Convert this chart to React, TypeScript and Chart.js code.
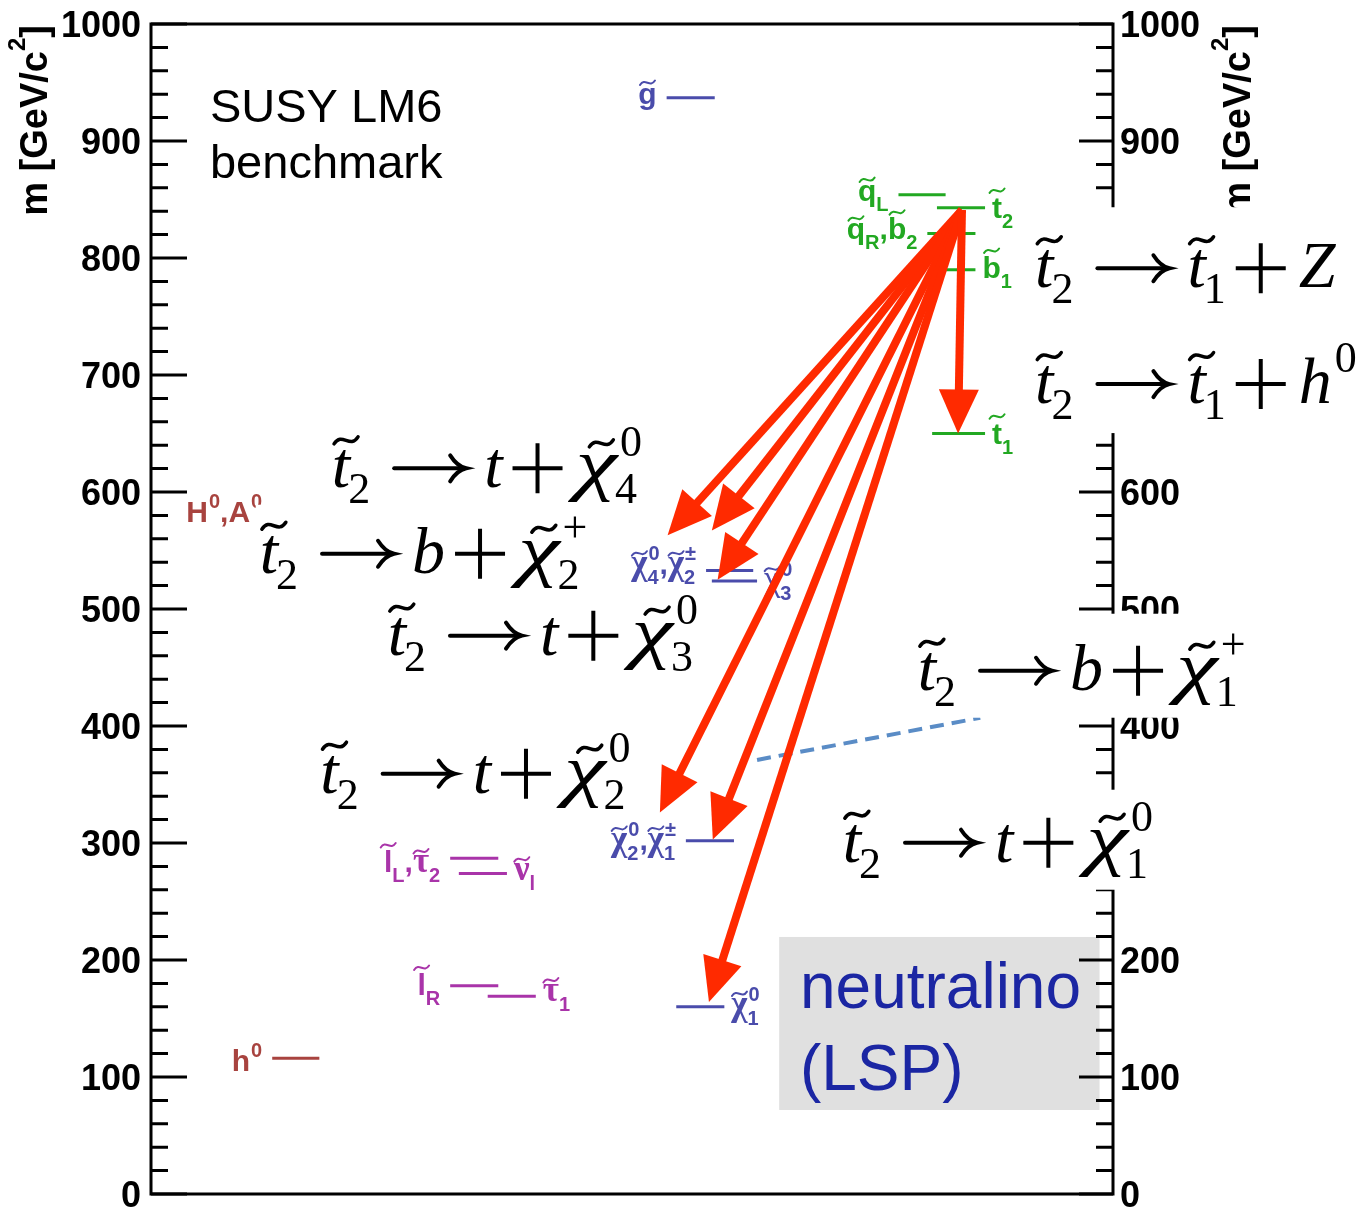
import React, { useEffect, useRef } from 'react';
import { Chart, registerables } from 'chart.js';

Chart.register(...registerables);

// ---------------- data ----------------
// SUSY LM6 mass spectrum levels (GeV/c^2)
const levelIds = ['gluino', 'sqL', 'stop2', 'sqR_sb2', 'sb1', 'stop1', 'chi40_chi2pm', 'chi30', 'chi20_chi1pm', 'chi10', 'slL_stau2', 'snu', 'slR', 'stau1', 'h0', 'H0_A0'];
const levelMass = [937, 854, 843, 821, 790, 650, 533, 524, 302, 160, 287, 274, 178, 169, 116, 584];
const levelXStart = [53.6, 77.7, 81.7, 80.7, 81.2, 81.2, 57.7, 58.3, 55.6, 54.6, 31.1, 32.0, 31.1, 35.0, 12.6, 12.6];
const levelXEnd = [58.6, 82.6, 86.7, 85.7, 85.7, 86.7, 62.6, 63.0, 60.6, 59.6, 36.1, 37.0, 36.1, 40.0, 17.5, 17.5];
const levelGroup = ['gaugino', 'squark', 'squark', 'squark', 'squark', 'squark', 'gaugino', 'gaugino', 'gaugino', 'gaugino', 'slepton', 'slepton', 'slepton', 'slepton', 'higgs', 'higgs'];

// decays of stop2 (arrows): source and targets
const decaySourceX = 84.3;
const decaySourceMass = 841;
const decayTargetX = [53.7, 58.3, 58.9, 52.9, 58.4, 58.0, 83.9];
const decayTargetMass = [563, 567, 525, 326, 303, 164, 650];

// dashed link (t2 -> b + chi1+)
const linkX = [63.0, 86.2];
const linkMass = [371, 407];

// axis
const massTicks = [0, 100, 200, 300, 400, 500, 600, 700, 800, 900, 1000];
const massMin = 0;
const massMax = 1000;
const massMinorStep = 20;

// ---------------- styles / layout ----------------
const groupColor: Record<string, string> = {
  squark: '#22a822',
  gaugino: '#4a4cab',
  slepton: '#a934a9',
  higgs: '#a8433f',
};
const RED = '#ff2a00';

type Seg = { t?: string; sub?: string; sup?: string; tilde?: boolean; greek?: boolean; op?: 'arrow' | 'plus' };

type RichStyle = {
  family: string; weight: string; italic: boolean; size: number;
  greekFamily: string; greekWeight: string; greekItalic: boolean; greekSize: number; greekScaleX: number;
  scriptFamily: string; scriptWeight: string; scriptSize: number;
  subDy: number; supDy: number; subKern: number; supKern: number;
  tildeTall: number; tildeShort: number; tildeW: number; tildeAmp: number; tildeLW: number; tildeShift: number;
  arrowW: number; arrowGap: [number, number]; plusW: number; plusGap: [number, number]; opLW: number; mathAxis: number;
};

const SANS = '"Liberation Sans", Arial, Helvetica, sans-serif';
const SERIF = '"Liberation Serif", "Times New Roman", serif';

const labelStyle: RichStyle = {
  family: SANS, weight: 'bold', italic: false, size: 30,
  greekFamily: SERIF, greekWeight: 'bold', greekItalic: false, greekSize: 35, greekScaleX: 1,
  scriptFamily: SANS, scriptWeight: 'bold', scriptSize: 20,
  subDy: 10, supDy: -14, subKern: 0, supKern: 1,
  tildeTall: 27, tildeShort: 21, tildeW: 15, tildeAmp: 2.2, tildeLW: 2, tildeShift: 0,
  arrowW: 0, arrowGap: [0, 0], plusW: 0, plusGap: [0, 0], opLW: 0, mathAxis: 0,
};

const mathStyle: RichStyle = {
  family: SERIF, weight: 'normal', italic: true, size: 66,
  greekFamily: SERIF, greekWeight: 'normal', greekItalic: true, greekSize: 70, greekScaleX: 1.35,
  scriptFamily: SERIF, scriptWeight: 'normal', scriptSize: 44,
  subDy: 16, supDy: -31, subKern: -2, supKern: 3,
  tildeTall: 47, tildeShort: 44, tildeW: 24, tildeAmp: 3.5, tildeLW: 3.5, tildeShift: 5,
  arrowW: 72, arrowGap: [24, 18], plusW: 50, plusGap: [10, 13], opLW: 4, mathAxis: 19,
};

const levelLabelSegs: Seg[][] = [
  [{ t: 'g', tilde: true }],
  [{ t: 'q', tilde: true, sub: 'L' }],
  [{ t: 't', tilde: true, sub: '2' }],
  [{ t: 'q', tilde: true, sub: 'R' }, { t: ',' }, { t: 'b', tilde: true, sub: '2' }],
  [{ t: 'b', tilde: true, sub: '1' }],
  [{ t: 't', tilde: true, sub: '1' }],
  [{ t: 'χ', greek: true, tilde: true, sub: '4', sup: '0' }, { t: ',' }, { t: 'χ', greek: true, tilde: true, sub: '2', sup: '±' }],
  [{ t: 'χ', greek: true, tilde: true, sub: '3', sup: '0' }],
  [{ t: 'χ', greek: true, tilde: true, sub: '2', sup: '0' }, { t: ',' }, { t: 'χ', greek: true, tilde: true, sub: '1', sup: '±' }],
  [{ t: 'χ', greek: true, tilde: true, sub: '1', sup: '0' }],
  [{ t: 'l', tilde: true, sub: 'L' }, { t: ',' }, { t: 'τ', greek: true, tilde: true, sub: '2' }],
  [{ t: 'ν', greek: true, tilde: true, sub: 'l' }],
  [{ t: 'l', tilde: true, sub: 'R' }],
  [{ t: 'τ', greek: true, tilde: true, sub: '1' }],
  [{ t: 'h', sup: '0' }],
  [{ t: 'H', sup: '0' }, { t: ',' }, { t: 'A', sup: '0' }],
];
const levelLabelSide = ['L', 'L', 'R', 'L', 'R', 'R', 'L', 'R', 'L', 'R', 'L', 'R', 'L', 'R', 'L', 'L'];
const levelLabelDy = [6, 6, 10, 6, 8, 10, 4, 9, 9, 8, 14, 7, 9, 5, 13, 11];

const AR: Seg = { op: 'arrow' };
const PL: Seg = { op: 'plus' };
const T2: Seg = { t: 't', tilde: true, sub: '2' };
const T1: Seg = { t: 't', tilde: true, sub: '1' };
const decayFormulas: Seg[][] = [
  [T2, AR, T1, PL, { t: 'Z' }],
  [T2, AR, T1, PL, { t: 'h', sup: '0' }],
  [T2, AR, { t: 't' }, PL, { t: 'χ', greek: true, tilde: true, sub: '4', sup: '0' }],
  [T2, AR, { t: 'b' }, PL, { t: 'χ', greek: true, tilde: true, sub: '2', sup: '+' }],
  [T2, AR, { t: 't' }, PL, { t: 'χ', greek: true, tilde: true, sub: '3', sup: '0' }],
  [T2, AR, { t: 'b' }, PL, { t: 'χ', greek: true, tilde: true, sub: '1', sup: '+' }],
  [T2, AR, { t: 't' }, PL, { t: 'χ', greek: true, tilde: true, sub: '2', sup: '0' }],
  [T2, AR, { t: 't' }, PL, { t: 'χ', greek: true, tilde: true, sub: '1', sup: '0' }],
];
const formulaX = [91.9, 91.9, 18.8, 11.3, 24.6, 79.7, 17.6, 71.9];
const formulaMass = [775, 676, 604, 531, 461, 431, 343, 284];
// white backing box of each formula (px above / below baseline, extra at right)
const formulaBoxTop = [80, 80, 68, 68, 68, 76, 68, 72];
const formulaBoxBottom = [40, 30, 26, 26, 26, 28, 26, 28];
const formulaBoxRight = [40, 40, 14, 14, 14, 16, 14, 32];

const benchmarkLines = ['SUSY LM6', 'benchmark'];
const benchmarkX = 6.13;
const benchmarkMass = [916, 868];

const lspLines = ['neutralino', '(LSP)'];
const lspBoxX = [65.3, 98.6];
const lspBoxMass = [71.8, 219.7];
const lspTextX = 67.46;
const lspTextMass = [159, 89];

// ---------------- drawing helpers ----------------
const TALL = 'bdfhklt';

function mainFont(st: RichStyle, s: Seg) {
  if (s.greek) return `${st.greekItalic ? 'italic ' : ''}${st.greekWeight} ${st.greekSize}px ${st.greekFamily}`;
  return `${st.italic ? 'italic ' : ''}${st.weight} ${st.size}px ${st.family}`;
}
function scriptFont(st: RichStyle) {
  return `${st.scriptWeight} ${st.scriptSize}px ${st.scriptFamily}`;
}
function mainWidth(ctx: CanvasRenderingContext2D, st: RichStyle, s: Seg) {
  ctx.font = mainFont(st, s);
  const w = ctx.measureText(s.t || '').width;
  return s.greek ? w * st.greekScaleX : w;
}
function segWidth(ctx: CanvasRenderingContext2D, st: RichStyle, s: Seg) {
  if (s.op === 'arrow') return st.arrowGap[0] + st.arrowW + st.arrowGap[1];
  if (s.op === 'plus') return st.plusGap[0] + st.plusW + st.plusGap[1];
  const w = mainWidth(ctx, st, s);
  let ws = 0;
  ctx.font = scriptFont(st);
  if (s.sub) ws = Math.max(ws, st.subKern + ctx.measureText(s.sub).width);
  if (s.sup) ws = Math.max(ws, st.supKern + ctx.measureText(s.sup).width);
  return w + ws;
}
function richWidth(ctx: CanvasRenderingContext2D, st: RichStyle, segs: Seg[]) {
  return segs.reduce((a, s) => a + segWidth(ctx, st, s), 0);
}
function drawTilde(ctx: CanvasRenderingContext2D, cx: number, cy: number, w: number, a: number, lw: number) {
  ctx.beginPath();
  ctx.moveTo(cx - w / 2, cy + a);
  ctx.bezierCurveTo(cx - w / 6, cy - a * 2.6, cx + w / 6, cy + a * 2.6, cx + w / 2, cy - a);
  ctx.lineWidth = lw;
  ctx.lineCap = 'round';
  ctx.stroke();
}
function drawRich(ctx: CanvasRenderingContext2D, st: RichStyle, segs: Seg[], x: number, y: number, align: string, color: string) {
  const total = richWidth(ctx, st, segs);
  let cx = align === 'right' ? x - total : x;
  ctx.save();
  ctx.fillStyle = color;
  ctx.strokeStyle = color;
  ctx.textAlign = 'left';
  ctx.textBaseline = 'alphabetic';
  for (const s of segs) {
    const sw = segWidth(ctx, st, s);
    if (s.op === 'arrow') {
      const x0 = cx + st.arrowGap[0];
      const x1 = x0 + st.arrowW;
      const yy = y - st.mathAxis;
      ctx.lineWidth = st.opLW;
      ctx.lineCap = 'round';
      ctx.beginPath();
      ctx.moveTo(x0, yy);
      ctx.lineTo(x1 - 2, yy);
      ctx.stroke();
      ctx.beginPath();
      ctx.moveTo(x1 - 16, yy - 13);
      ctx.quadraticCurveTo(x1 - 9, yy - 2, x1, yy);
      ctx.quadraticCurveTo(x1 - 9, yy + 2, x1 - 16, yy + 13);
      ctx.stroke();
    } else if (s.op === 'plus') {
      const x0 = cx + st.plusGap[0];
      const h = st.plusW / 2;
      const mx = x0 + h;
      const yy = y - st.mathAxis;
      ctx.lineWidth = st.opLW;
      ctx.lineCap = 'butt';
      ctx.beginPath();
      ctx.moveTo(x0, yy);
      ctx.lineTo(x0 + st.plusW, yy);
      ctx.moveTo(mx, yy - h);
      ctx.lineTo(mx, yy + h);
      ctx.stroke();
    } else {
      const w = mainWidth(ctx, st, s);
      ctx.font = mainFont(st, s);
      if (s.greek && st.greekScaleX !== 1) {
        ctx.save();
        ctx.translate(cx, y);
        ctx.scale(st.greekScaleX, 1);
        ctx.fillText(s.t || '', 0, 0);
        ctx.restore();
      } else {
        ctx.fillText(s.t || '', cx, y);
      }
      if (s.tilde) {
        const ch = s.t || '';
        const tall = !s.greek && (TALL.includes(ch) || ch.toUpperCase() === ch);
        drawTilde(ctx, cx + w / 2 + st.tildeShift, y - (tall ? st.tildeTall : st.tildeShort), st.tildeW, st.tildeAmp, st.tildeLW);
      }
      ctx.font = scriptFont(st);
      if (s.sub) ctx.fillText(s.sub, cx + w + st.subKern, y + st.subDy);
      if (s.sup) ctx.fillText(s.sup, cx + w + st.supKern, y + st.supDy);
    }
    cx += sw;
  }
  ctx.restore();
}
function drawDecayArrow(ctx: CanvasRenderingContext2D, x0: number, y0: number, x1: number, y1: number) {
  const dx = x1 - x0;
  const dy = y1 - y0;
  const L = Math.hypot(dx, dy);
  const ux = dx / L;
  const uy = dy / L;
  const hl = 44;
  const hw = 20;
  const bx = x1 - ux * hl;
  const by = y1 - uy * hl;
  ctx.save();
  ctx.strokeStyle = RED;
  ctx.fillStyle = RED;
  ctx.lineWidth = 8;
  ctx.lineCap = 'butt';
  ctx.beginPath();
  ctx.moveTo(x0, y0);
  ctx.lineTo(bx + ux * 4, by + uy * 4);
  ctx.stroke();
  ctx.beginPath();
  ctx.moveTo(x1, y1);
  ctx.lineTo(bx - uy * hw, by + ux * hw);
  ctx.lineTo(bx + uy * hw, by - ux * hw);
  ctx.closePath();
  ctx.fill();
  ctx.restore();
}
function drawAxisTitle(ctx: CanvasRenderingContext2D, xBase: number, yEnd: number) {
  const f = `bold 38px ${SANS}`;
  const fs = `bold 24px ${SANS}`;
  ctx.save();
  ctx.translate(xBase, yEnd);
  ctx.rotate(-Math.PI / 2);
  ctx.fillStyle = '#000';
  ctx.textAlign = 'left';
  ctx.textBaseline = 'alphabetic';
  const a = 'm [GeV/c';
  ctx.font = f;
  const wa = ctx.measureText(a).width;
  const wb = ctx.measureText(']').width;
  ctx.font = fs;
  const w2 = ctx.measureText('2').width;
  let x = -(wa + w2 + wb);
  ctx.font = f;
  ctx.fillText(a, x, 0);
  x += wa;
  ctx.font = fs;
  ctx.fillText('2', x, -22);
  x += w2;
  ctx.font = f;
  ctx.fillText(']', x, 0);
  ctx.restore();
}

const susyPlugin = {
  id: 'susyDecorations',
  beforeDatasetsDraw(chart: any) {
    const ctx: CanvasRenderingContext2D = chart.ctx;
    const xs = chart.scales.x;
    const ys = chart.scales.y;
    ctx.save();
    // LSP box
    const bx0 = xs.getPixelForValue(lspBoxX[0]);
    const bx1 = xs.getPixelForValue(lspBoxX[1]);
    const by0 = ys.getPixelForValue(lspBoxMass[1]);
    const by1 = ys.getPixelForValue(lspBoxMass[0]);
    ctx.fillStyle = '#e0e0e0';
    ctx.fillRect(bx0, by0, bx1 - bx0, by1 - by0);
    ctx.fillStyle = '#1b26a3';
    ctx.font = `64px ${SANS}`;
    ctx.textAlign = 'left';
    ctx.textBaseline = 'alphabetic';
    lspLines.forEach((s, i) => ctx.fillText(s, xs.getPixelForValue(lspTextX), ys.getPixelForValue(lspTextMass[i])));
    // benchmark text
    ctx.fillStyle = '#000';
    ctx.font = `47px ${SANS}`;
    benchmarkLines.forEach((s, i) => ctx.fillText(s, xs.getPixelForValue(benchmarkX), ys.getPixelForValue(benchmarkMass[i])));
    ctx.restore();
  },
  afterDatasetsDraw(chart: any) {
    const ctx: CanvasRenderingContext2D = chart.ctx;
    const xs = chart.scales.x;
    const ys = chart.scales.y;
    const { left, right, top, bottom } = chart.chartArea;
    ctx.save();
    // frame
    ctx.strokeStyle = '#000';
    ctx.lineWidth = 3;
    ctx.lineCap = 'square';
    ctx.beginPath();
    ctx.moveTo(left, top);
    ctx.lineTo(right, top);
    ctx.lineTo(right, bottom);
    ctx.lineTo(left, bottom);
    ctx.closePath();
    ctx.stroke();
    // ticks
    ctx.lineCap = 'butt';
    ctx.beginPath();
    for (let v = massMin; v <= massMax; v += massMinorStep) {
      const py = ys.getPixelForValue(v);
      const major = massTicks.includes(v);
      ctx.moveTo(left, py);
      ctx.lineTo(left + (major ? 36 : 17), py);
      ctx.moveTo(right, py);
      ctx.lineTo(right - (major ? 34 : 17), py);
    }
    ctx.stroke();
    // axis titles
    drawAxisTitle(ctx, 47, 25);
    drawAxisTitle(ctx, 1250, 25);
    // level labels
    levelMass.forEach((m, i) => {
      const py = ys.getPixelForValue(m) + levelLabelDy[i];
      const color = groupColor[levelGroup[i]];
      if (levelLabelSide[i] === 'L') {
        drawRich(ctx, labelStyle, levelLabelSegs[i], xs.getPixelForValue(levelXStart[i]) - 10, py, 'right', color);
      } else {
        drawRich(ctx, labelStyle, levelLabelSegs[i], xs.getPixelForValue(levelXEnd[i]) + 7, py, 'left', color);
      }
    });
    // decay arrows
    const sx = xs.getPixelForValue(decaySourceX);
    const sy = ys.getPixelForValue(decaySourceMass);
    decayTargetX.forEach((tx, i) => {
      drawDecayArrow(ctx, sx, sy, xs.getPixelForValue(tx), ys.getPixelForValue(decayTargetMass[i]));
    });
    ctx.restore();
  },
  afterDraw(chart: any) {
    const ctx: CanvasRenderingContext2D = chart.ctx;
    const xs = chart.scales.x;
    const ys = chart.scales.y;
    const pos = decayFormulas.map((segs, i) => ({
      x: xs.getPixelForValue(formulaX[i]),
      y: ys.getPixelForValue(formulaMass[i]),
      w: richWidth(ctx, mathStyle, segs),
    }));
    ctx.save();
    ctx.fillStyle = '#ffffff';
    pos.forEach((p, i) => {
      ctx.fillRect(p.x - 4, p.y - formulaBoxTop[i], p.w + 4 + formulaBoxRight[i], formulaBoxTop[i] + formulaBoxBottom[i]);
    });
    ctx.restore();
    decayFormulas.forEach((segs, i) => drawRich(ctx, mathStyle, segs, pos[i].x, pos[i].y, 'left', '#000'));
  },
};

export default function App() {
  const ref = useRef<HTMLCanvasElement>(null);
  useEffect(() => {
    document.body.style.margin = '0';
    const canvas = ref.current;
    if (!canvas) return;
    const datasets: any[] = levelMass.map((m, i) => ({
      label: levelIds[i],
      data: [{ x: levelXStart[i], y: m }, { x: levelXEnd[i], y: m }],
      showLine: true,
      borderColor: groupColor[levelGroup[i]],
      backgroundColor: groupColor[levelGroup[i]],
      borderWidth: 3,
      pointRadius: 0,
      xAxisID: 'x',
      yAxisID: 'y',
    }));
    datasets.push({
      label: 'link',
      data: linkX.map((x, i) => ({ x, y: linkMass[i] })),
      showLine: true,
      borderColor: '#5a8cc6',
      borderWidth: 4,
      borderDash: [14, 8],
      pointRadius: 0,
      xAxisID: 'x',
      yAxisID: 'y',
    });
    const tickFont = { family: SANS, size: 36, weight: 'bold' as const };
    const mkY = (position: 'left' | 'right', width: number, padding: number) => ({
      type: 'linear' as const,
      position,
      min: massMin,
      max: massMax,
      afterBuildTicks: (s: any) => {
        s.ticks = massTicks.map((v) => ({ value: v }));
      },
      ticks: {
        font: tickFont,
        color: '#000',
        padding,
        labelOffset: 3,
        autoSkip: false,
        callback: (v: any) => String(v),
      },
      grid: { display: false, drawTicks: false },
      border: { display: false },
      afterFit: (s: any) => {
        s.width = width;
        s.paddingTop = 0;
        s.paddingBottom = 0;
      },
    });
    const chart = new Chart(canvas, {
      type: 'scatter',
      data: { datasets },
      options: {
        responsive: false,
        animation: false,
        devicePixelRatio: 1,
        events: [],
        layout: { padding: { left: 0, right: 0, top: 24, bottom: 17 } },
        plugins: { legend: { display: false }, tooltip: { enabled: false } },
        scales: {
          x: { type: 'linear', min: 0, max: 100, display: false },
          y: mkY('left', 151, 10),
          y2: mkY('right', 254, 7),
        },
      } as any,
      plugins: [susyPlugin],
    });
    return () => chart.destroy();
  }, []);
  return (
    <div style={{ position: 'absolute', left: 0, top: 0, width: 1367, height: 1211, background: '#fff' }}>
      <canvas ref={ref} width={1367} height={1211} style={{ display: 'block', width: 1367, height: 1211 }} />
    </div>
  );
}
